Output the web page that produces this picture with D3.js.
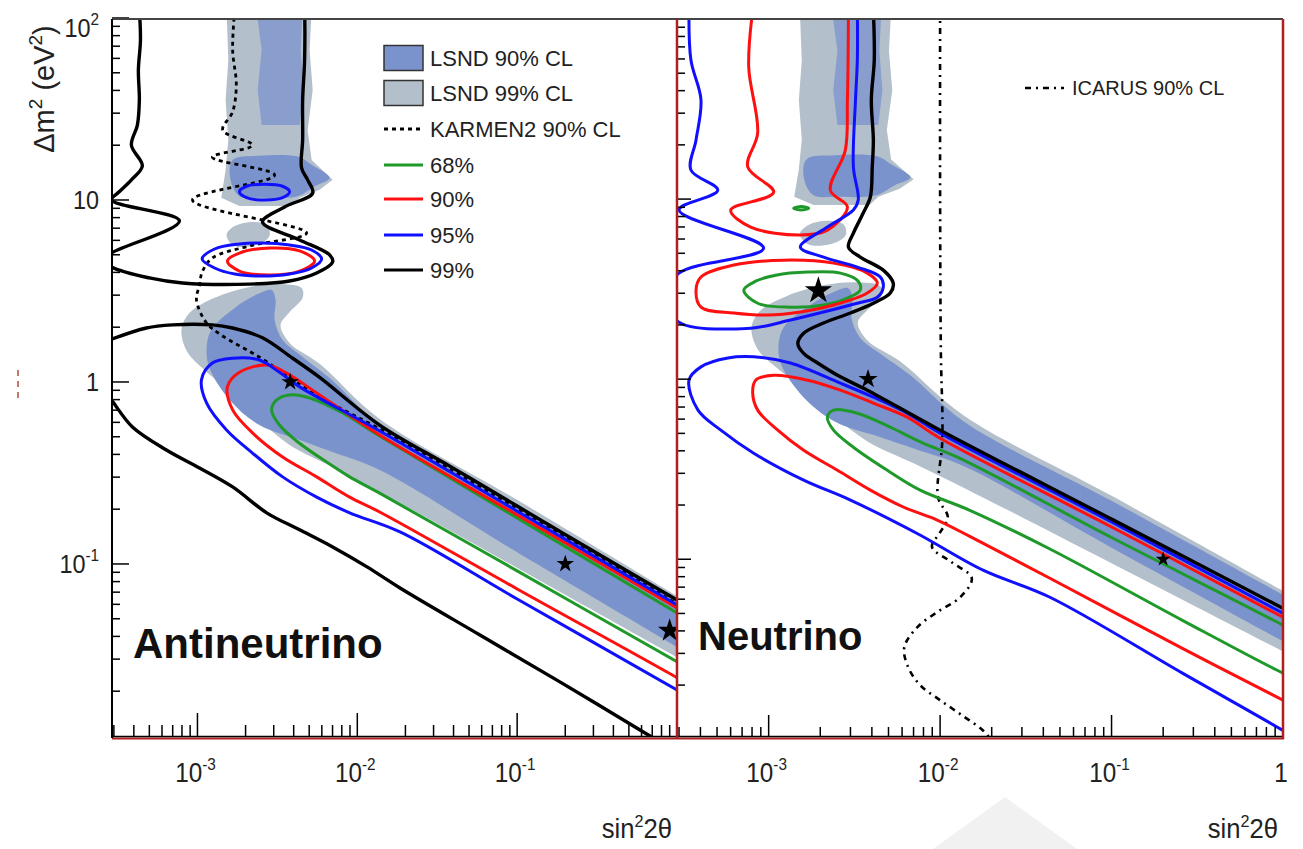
<!DOCTYPE html>
<html>
<head>
<meta charset="utf-8">
<script src="https://cdn.jsdelivr.net/npm/d3@7"></script>
<style>
html, body { margin: 0; padding: 0; background: #fff; }
svg { display: block; font-family: "Liberation Sans", Arial, sans-serif; }
</style>
</head>
<body>
<svg id="chart" width="1303" height="849"></svg>
<script>
// ---- axis domains and tick labels ----
const xDomain = [2.92e-4, 1];
const yDomainAnti = [0.0112, 100];
const yDomainNu = [0.0103, 100];
const xTickValues = [1e-3, 1e-2, 1e-1, 1];
const xTickText = [["10", "-3"], ["10", "-2"], ["10", "-1"], ["1", ""]];
const yTickValues = [100, 10, 1, 0.1];
const yTickText = [["10", "2"], ["10", ""], ["1", ""], ["10", "-1"]];
const legendLabels = ["LSND 90% CL", "LSND 99% CL", "KARMEN2 90% CL", "68%", "90%", "95%", "99%"];
const icarusLabel = "ICARUS 90% CL";

// ---- LSND allowed regions, [sin^2 2theta, dm^2] ----
const lsnd99Top = [[1.52e-3,111],[5.18e-3,111],[5.03e-3,66.7],[5.26e-3,40.2],[4.89e-3,24.2],[5.18e-3,16.6],[7.01e-3,12.9],[5.81e-3,11.4],[4.36e-3,10.3],[3.88e-3,9.27],[1.83e-3,9.27],[1.41e-3,10.3],[1.50e-3,14.6],[1.56e-3,21.4],[1.50e-3,35.4],[1.56e-3,58.8]];
const lsnd99Mid = [[1.52e-3,6.42],[1.71e-3,7.19],[2.28e-3,7.57],[2.75e-3,7.19],[2.82e-3,6.34],[2.44e-3,5.73],[1.71e-3,5.59]];
const lsnd99Low = [[2.12e-3,3.33],[3.17e-3,3.45],[4.48e-3,3.28],[4.55e-3,2.90],[3.77e-3,2.42],[3.31e-3,2.06],[3.77e-3,1.64],[5.81e-3,1.26],[1.38e-2,0.626],[0.1,0.225],[1.0,0.0667],[1.40,0.0559],[1.40,0.0262],[1.0,0.0308],[0.1,0.0951],[1.85e-2,0.216],[7.01e-3,0.341],[3.77e-3,0.451],[2.44e-3,0.618],[1.71e-3,0.849],[1.11e-3,1.16],[8.65e-4,1.46],[7.94e-4,1.93],[8.91e-4,2.39],[1.28e-3,2.90]];
const lsnd90Top = [[2.34e-3,111],[4.55e-3,111],[4.42e-3,66.7],[4.61e-3,40.2],[4.36e-3,25.8],[2.52e-3,25.8],[2.38e-3,40.2],[2.52e-3,66.7]];
const lsnd90Mid = [[1.66e-3,16.6],[2.44e-3,17.5],[4.36e-3,17.2],[5.18e-3,15.6],[6.71e-3,13.2],[5.41e-3,11.9],[4.23e-3,10.5],[2.44e-3,10.3],[1.83e-3,10.5],[1.61e-3,12.9]];
const lsnd90Low = [[2.91e-3,3.20],[3.08e-3,2.82],[3.04e-3,2.19],[3.41e-3,1.70],[4.36e-3,1.41],[6.71e-3,1.05],[1.38e-2,0.580],[0.1,0.211],[1.0,0.0634],[1.40,0.0531],[1.40,0.0293],[1.0,0.0350],[0.1,0.116],[1.38e-2,0.328],[7.01e-3,0.412],[4.36e-3,0.480],[2.44e-3,0.580],[1.59e-3,0.797],[1.19e-3,1.19],[1.14e-3,1.50],[1.22e-3,1.93],[1.71e-3,2.55],[2.38e-3,3.04]];

// ---- antineutrino fit contours ----
const anti99a = [[4.33e-4,111],[4.40e-4,75.7],[4.27e-4,51.8],[4.33e-4,35.4],[4.21e-4,25.8],[3.86e-4,20.0],[4.52e-4,15.4],[3.86e-4,12.9],[3.24e-4,11.1],[2.9e-4,10.0],[7.71e-4,7.67],[2.9e-4,5.11],[2.61e-4,4.68],[2.9e-4,4.28],[5.0e-4,3.73],[8.05e-4,3.50],[2.12e-3,3.45],[3.77e-3,3.59],[5.57e-3,3.97],[7.01e-3,4.56],[6.71e-3,4.99],[4.36e-3,6.03],[2.55e-3,7.57],[3.51e-3,9.16],[5.26e-3,10.9],[4.89e-3,12.9],[4.48e-3,15.0],[4.55e-3,21.4],[4.55e-3,35.4],[4.68e-3,58.8],[4.68e-3,111]];
const anti99b = [[2.61e-4,1.66],[4.79e-4,1.98],[6.97e-4,2.06],[1.24e-3,2.06],[1.66e-3,1.98],[2.55e-3,1.75],[3.94e-3,1.35],[5.81e-3,1.06],[1.38e-2,0.580],[3.79e-2,0.345],[0.1,0.208],[0.330,0.112],[1.0,0.0634],[1.21,0.0573]];
const anti99c = [[2.61e-4,0.881],[2.89e-4,0.797],[3.92e-4,0.566],[6.39e-4,0.423],[1.03e-3,0.337],[1.66e-3,0.265],[2.71e-3,0.191],[4.36e-3,0.154],[7.01e-3,0.124],[1.15e-2,0.0964],[1.85e-2,0.0738],[5.85e-2,0.0407],[0.185,0.0225],[0.650,0.0116],[0.785,0.0105]];
const anti95a = [[1.83e-3,11.1],[2.03e-3,11.9],[2.63e-3,12.2],[3.41e-3,11.9],[3.77e-3,11.1],[3.41e-3,10.3],[2.63e-3,10.0],[2.03e-3,10.3]];
const anti95b = [[1.07e-3,4.74],[1.28e-3,5.38],[1.83e-3,5.73],[2.52e-3,5.81],[3.77e-3,5.66],[5.18e-3,5.31],[5.98e-3,4.74],[5.18e-3,4.23],[3.77e-3,3.92],[2.52e-3,3.82],[1.71e-3,3.92],[1.28e-3,4.23]];
const anti95c = [[1.21,0.0184],[1.0,0.0203],[0.1,0.0642],[1.85e-2,0.150],[8.96e-3,0.191],[5.57e-3,0.233],[3.41e-3,0.301],[2.21e-3,0.407],[1.52e-3,0.545],[1.14e-3,0.767],[1.06e-3,1.03],[1.24e-3,1.27],[1.66e-3,1.35],[2.44e-3,1.32],[3.26e-3,1.13],[4.36e-3,0.94],[1.38e-2,0.538],[0.1,0.195],[1.0,0.0595],[1.21,0.0538]];
const anti90a = [[1.54e-3,4.62],[1.83e-3,5.11],[2.87e-3,5.45],[4.36e-3,5.25],[5.41e-3,4.62],[4.36e-3,4.07],[2.87e-3,3.87],[1.83e-3,4.07]];
const anti90b = [[1.21,0.0214],[1.0,0.0237],[0.1,0.0729],[1.38e-2,0.193],[8.96e-3,0.233],[5.57e-3,0.301],[3.41e-3,0.387],[2.21e-3,0.525],[1.66e-3,0.702],[1.54e-3,0.94],[1.83e-3,1.13],[2.71e-3,1.24],[3.61e-3,1.12],[5.57e-3,0.870],[1.38e-2,0.511],[0.1,0.186],[1.0,0.0573],[1.21,0.0518]];
const anti68 = [[1.21,0.0265],[1.0,0.0290],[0.1,0.0916],[1.38e-2,0.245],[8.96e-3,0.301],[6.43e-3,0.363],[4.17e-3,0.474],[3.26e-3,0.580],[2.91e-3,0.702],[3.13e-3,0.797],[3.77e-3,0.849],[5.03e-3,0.817],[8.09e-3,0.676],[1.38e-2,0.505],[0.1,0.179],[1.0,0.0538],[1.21,0.0486]];
const karmen2 = [[1.71e-3,111],[1.66e-3,66.7],[1.75e-3,42.9],[1.66e-3,30.5],[1.44e-3,24.2],[2.21e-3,20.0],[1.24e-3,17.2],[3.04e-3,13.7],[9.31e-4,10.0],[4.82e-3,6.59],[2.12e-3,5.59],[1.24e-3,4.80],[1.07e-3,4.02],[1.03e-3,3.41],[9.86e-4,2.82],[1.14e-3,2.11],[1.41e-3,1.81],[2.44e-3,1.37],[3.77e-3,1.06],[5.81e-3,0.828],[1.85e-2,0.480],[1.0,0.0603],[1.21,0.0545]];
const antiBest = [[3.8e-3,1.0],[0.2,0.1],[0.9,0.043]];

// ---- neutrino fit contours ----
const nu99 = [[4.08e-3,112],[4.13e-3,59.2],[3.97e-3,35.5],[4.08e-3,21.3],[4.02e-3,15.1],[3.92e-3,10.3],[3.56e-3,8.36],[3.12e-3,6.47],[2.92e-3,5.41],[3.42e-3,4.76],[4.66e-3,4.03],[5.33e-3,3.41],[5.12e-3,3.01],[4.08e-3,2.64],[3.00e-3,2.33],[2.09e-3,2.05],[1.60e-3,1.80],[1.48e-3,1.58],[1.60e-3,1.39],[1.93e-3,1.23],[2.62e-3,1.03],[3.76e-3,0.869],[1.0e-2,0.521],[0.1,0.167],[1.0,0.0534],[1.24,0.0476]];
const nu95a = [[3.43e-4,112],[3.52e-4,59.2],[4.03e-4,35.5],[3.77e-4,21.3],[3.52e-4,14.5],[5.05e-4,11.2],[3.00e-4,8.69],[9.35e-4,5.34],[3.00e-4,3.88],[2.52e-4,2.89],[3.00e-4,2.07],[7.86e-4,1.92],[1.34e-3,2.13],[2.09e-3,2.36],[3.29e-3,2.64],[4.30e-3,2.85],[4.66e-3,3.24],[4.48e-3,3.69],[3.29e-3,4.19],[2.09e-3,4.76],[1.53e-3,5.41],[2.20e-3,6.99],[3.12e-3,8.69],[3.33e-3,9.87],[3.12e-3,15.1],[3.21e-3,35.5],[3.29e-3,59.2],[3.29e-3,112]];
const nu95b = [[1.24,0.00987],[1.0,0.0112],[0.259,0.0233],[4.37e-2,0.0615],[1.78e-2,0.0869],[7.35e-3,0.139],[3.00e-3,0.213],[1.60e-3,0.275],[8.18e-4,0.388],[5.26e-4,0.521],[3.87e-4,0.673],[3.43e-4,0.987],[4.03e-4,1.17],[5.78e-4,1.31],[8.18e-4,1.33],[1.34e-3,1.23],[2.62e-3,0.950],[4.08e-3,0.794],[6.43e-3,0.647],[1.0e-2,0.501],[0.1,0.161],[1.0,0.0501],[1.24,0.0447]];
const nu90a = [[8.07e-4,112],[7.65e-4,54.1],[8.63e-4,23.3],[7.55e-4,15.1],[1.07e-3,10.9],[6.01e-4,8.69],[7.86e-4,6.99],[1.53e-3,6.31],[2.20e-3,6.72],[2.88e-3,9.03],[2.29e-3,11.2],[2.80e-3,18.7],[2.88e-3,35.5],[2.92e-3,112]];
const nu90b = [[3.77e-4,3.12],[4.03e-4,3.69],[6.26e-4,4.30],[1.22e-3,4.58],[2.39e-3,4.41],[3.76e-3,3.88],[4.30e-3,3.41],[3.76e-3,3.01],[2.39e-3,2.58],[1.53e-3,2.36],[9.87e-4,2.27],[6.26e-4,2.33],[4.03e-4,2.51]];
const nu90c = [[1.24,0.0149],[1.0,0.0165],[0.259,0.0320],[4.37e-2,0.0784],[1.49e-2,0.134],[9.61e-3,0.165],[6.10e-3,0.195],[3.92e-3,0.242],[2.52e-3,0.312],[1.60e-3,0.403],[1.13e-3,0.521],[8.63e-4,0.673],[8.07e-4,0.836],[8.40e-4,0.987],[1.07e-3,1.05],[1.69e-3,0.987],[2.62e-3,0.869],[4.08e-3,0.736],[6.43e-3,0.615],[1.0e-2,0.470],[0.1,0.151],[1.0,0.0476],[1.24,0.0424]];
const nu68a = [[1.40e-3,8.9],[1.55e-3,9.1],[1.71e-3,8.9],[1.55e-3,8.7]];
const nu68b = [[7.16e-4,3.12],[8.40e-4,3.50],[1.10e-3,3.78],[1.69e-3,3.93],[2.62e-3,3.88],[3.33e-3,3.50],[3.42e-3,3.12],[2.88e-3,2.82],[2.09e-3,2.58],[1.34e-3,2.51],[8.63e-4,2.64]];
const nu68c = [[1.24,0.0213],[1.0,0.0233],[0.259,0.0458],[4.37e-2,0.114],[1.49e-2,0.187],[7.65e-3,0.242],[4.92e-3,0.312],[3.12e-3,0.419],[2.39e-3,0.521],[2.20e-3,0.615],[2.39e-3,0.673],[3.29e-3,0.647],[5.12e-3,0.541],[7.96e-3,0.441],[1.26e-2,0.369],[0.1,0.132],[1.0,0.0430],[1.24,0.0383]];
const icarus = [[1.0e-2,112],[1.0e-2,9.87],[1.01e-2,1.45],[1.03e-2,0.458],[9.73e-3,0.221],[1.11e-2,0.171],[1.0e-2,0.141],[8.97e-3,0.117],[1.17e-2,0.0962],[1.53e-2,0.0784],[1.31e-2,0.0615],[9.61e-3,0.0508],[7.35e-3,0.0419],[6.18e-3,0.0324],[6.52e-3,0.0251],[7.65e-3,0.0200],[1.0e-2,0.0165],[1.34e-2,0.0136],[1.78e-2,0.0112],[2.03e-2,0.0096]];
const nuBest = [[1.95e-3,3.1],[3.8e-3,1.0],[0.2,0.1]];

// ---- styles ----
const C = {
  lsnd90: "#7b93cd", lsnd99: "#b3bfcb",
  c68: "#1f9a2a", c90: "#ff1010", c95: "#1010ff", c99: "#000000",
  frameRed: "#b01e1e", text: "#222"
};

const svg = d3.select("#chart");
const defs = svg.append("defs");

// faint mark in the lower margin
svg.append("path").attr("d", "M1005,797 L1077,849 L933,849 Z").attr("fill", "#f1f1f1");

const panels = [
  { id: "anti", x0: 112, x1: 677, yTop: 18, yBot: 737, yDomain: yDomainAnti,
    xMaj: 24, xMin: 12, yMaj: 17, yMin: 8, xLabels: [0, 1, 2], title: "Antineutrino",
    titleX: 133, titleY: 658, titleSize: 42,
    fills: [[lsnd99Top, C.lsnd99, "lin", 1], [lsnd99Mid, C.lsnd99, "cr", 1], [lsnd99Low, C.lsnd99, "cr", 1],
            [lsnd90Top, C.lsnd90, "lin", 0.75], [lsnd90Mid, C.lsnd90, "cr", 1], [lsnd90Low, C.lsnd90, "cr", 1]],
    lines: [[anti68, C.c68, false], [anti90a, C.c90, true], [anti90b, C.c90, false],
            [anti95a, C.c95, true], [anti95b, C.c95, true], [anti95c, C.c95, false],
            [anti99a, C.c99, false], [anti99b, C.c99, false], [anti99c, C.c99, false]],
    dashed: [[karmen2, "4,4", 2.8]],
    stars: antiBest, starSizes: [95, 95, 170] },
  { id: "nu", x0: 677, x1: 1283, yTop: 19, yBot: 737, yDomain: yDomainNu,
    xMaj: 22, xMin: 10, yMaj: 14, yMin: 8, xLabels: [0, 1, 2, 3], title: "Neutrino",
    titleX: 698, titleY: 650, titleSize: 40,
    fills: [[lsnd99Top, C.lsnd99, "lin", 1], [lsnd99Mid, C.lsnd99, "cr", 1], [lsnd99Low, C.lsnd99, "cr", 1],
            [lsnd90Top, C.lsnd90, "lin", 0.75], [lsnd90Mid, C.lsnd90, "cr", 1], [lsnd90Low, C.lsnd90, "cr", 1]],
    lines: [[nu68a, C.c68, true], [nu68b, C.c68, true], [nu68c, C.c68, false],
            [nu90a, C.c90, false], [nu90b, C.c90, true], [nu90c, C.c90, false],
            [nu95a, C.c95, false], [nu95b, C.c95, false],
            [nu99, C.c99, false]],
    dashed: [[icarus, "6,5,2,5", 2.6]],
    stars: nuBest, starSizes: [230, 115, 70] }
];

function logTicks(domain) {
  const out = [];
  for (let e = -5; e <= 3; e++) {
    for (let k = 1; k <= 9; k++) {
      const v = k * Math.pow(10, e);
      if (v >= domain[0] * 0.999 && v <= domain[1] * 1.001) out.push({ v, major: k === 1 });
    }
  }
  return out;
}

// text with an optional superscript, slightly condensed like the axis font
function powerLabel(x, y, anchor, base, exp, size) {
  const t = svg.append("text")
    .attr("transform", `translate(${x},${y}) scale(0.9,1)`)
    .attr("text-anchor", anchor).attr("font-size", size).attr("fill", C.text);
  t.append("tspan").text(base);
  if (exp) t.append("tspan").attr("dy", -Math.round(size * 0.45)).attr("font-size", Math.round(size * 0.64)).text(exp);
  return t;
}

panels.forEach(p => {
  const xs = d3.scaleLog().domain(xDomain).range([p.x0, p.x1]);
  const ys = d3.scaleLog().domain(p.yDomain).range([p.yBot, p.yTop]);

  defs.append("clipPath").attr("id", "clip-" + p.id)
    .append("rect").attr("x", p.x0).attr("y", 19).attr("width", p.x1 - p.x0).attr("height", 737 - 19);

  const g = svg.append("g").attr("clip-path", "url(#clip-" + p.id + ")");

  const open = d3.line().x(d => xs(d[0])).y(d => ys(d[1])).curve(d3.curveCatmullRom.alpha(0.5));
  const closed = d3.line().x(d => xs(d[0])).y(d => ys(d[1])).curve(d3.curveCatmullRomClosed.alpha(0.5));
  const poly = d3.line().x(d => xs(d[0])).y(d => ys(d[1])).curve(d3.curveLinearClosed);

  // LSND allowed regions
  p.fills.forEach(([pts, col, kind, op]) => {
    g.append("path").attr("d", kind === "lin" ? poly(pts) : closed(pts))
      .attr("fill", col).attr("fill-opacity", op).attr("stroke", "none");
  });

  // exclusion limit of the other experiment
  p.dashed.forEach(([pts, dash, w]) => {
    g.append("path").attr("d", open(pts)).attr("fill", "none")
      .attr("stroke", "#000").attr("stroke-width", w).attr("stroke-dasharray", dash);
  });

  // confidence-level contours
  p.lines.forEach(([pts, col, isClosed]) => {
    g.append("path").attr("d", isClosed ? closed(pts) : open(pts))
      .attr("fill", "none").attr("stroke", col)
      .attr("stroke-width", col === C.c99 ? 3.4 : 3).attr("stroke-linejoin", "round");
  });

  // best-fit points
  g.selectAll("path.star").data(p.stars).join("path").attr("class", "star")
    .attr("transform", d => `translate(${xs(d[0])},${ys(d[1])})`)
    .attr("d", (d, i) => d3.symbol(d3.symbolStar, p.starSizes[i])())
    .attr("fill", "#000");

  // ticks
  const tg = svg.append("g").attr("stroke", "#000").attr("stroke-width", 1.5);
  logTicks(xDomain).forEach(t => {
    const x = xs(t.v);
    if (x > p.x1 - 0.5) return;
    tg.append("line").attr("x1", x).attr("x2", x)
      .attr("y1", p.yBot).attr("y2", p.yBot - (t.major ? p.xMaj : p.xMin));
  });
  logTicks(p.yDomain).forEach(t => {
    const y = ys(t.v);
    tg.append("line").attr("x1", p.x0).attr("x2", p.x0 + (t.major ? p.yMaj : p.yMin))
      .attr("y1", y).attr("y2", y);
  });

  // x tick labels
  p.xLabels.forEach(i => {
    powerLabel(xs(xTickValues[i]) - 2, 782, "middle", xTickText[i][0], xTickText[i][1], 27);
  });

  // x axis title
  const st = svg.append("text")
    .attr("transform", `translate(${p.x1 - 5},838) scale(0.95,1)`)
    .attr("text-anchor", "end").attr("font-size", 27).attr("fill", C.text);
  st.append("tspan").text("sin");
  st.append("tspan").attr("dy", -11).attr("font-size", 17).text("2");
  st.append("tspan").attr("dy", 11).text("2θ");

  // panel name
  svg.append("text").attr("x", p.titleX).attr("y", p.titleY)
    .attr("font-size", p.titleSize).attr("font-weight", "bold").attr("fill", "#111").text(p.title);

  p.xs = xs; p.ys = ys;
});

// y tick labels (left panel only)
const L = panels[0];
yTickValues.forEach((v, i) => {
  const y = Math.max(L.ys(v), 28) + 9;
  powerLabel(99, y, "end", yTickText[i][0], yTickText[i][1], 26);
});

// y axis title
svg.append("text").attr("transform", "translate(54,89) rotate(-90)")
  .attr("text-anchor", "middle").attr("font-size", 29).attr("fill", C.text)
  .call(t => {
    t.append("tspan").text("Δm");
    t.append("tspan").attr("dy", -12).attr("font-size", 19).text("2");
    t.append("tspan").attr("dy", 12).text(" (eV");
    t.append("tspan").attr("dy", -12).attr("font-size", 19).text("2");
    t.append("tspan").attr("dy", 12).text(")");
  });

// frames
svg.append("line").attr("x1", 112).attr("x2", 1283).attr("y1", 19).attr("y2", 19)
  .attr("stroke", "#444").attr("stroke-width", 2);
svg.append("line").attr("x1", 112).attr("x2", 1284).attr("y1", 738.5).attr("y2", 738.5)
  .attr("stroke", C.frameRed).attr("stroke-width", 2);
svg.append("line").attr("x1", 112).attr("x2", 1283).attr("y1", 736.5).attr("y2", 736.5)
  .attr("stroke", "#000").attr("stroke-width", 1.5);
svg.append("line").attr("x1", 112).attr("x2", 112).attr("y1", 19).attr("y2", 738)
  .attr("stroke", "#000").attr("stroke-width", 2);
[677, 1283].forEach(x => svg.append("line").attr("x1", x).attr("x2", x).attr("y1", 19).attr("y2", 739)
  .attr("stroke", C.frameRed).attr("stroke-width", 2.5));

// stray marks at far left
svg.append("line").attr("x1", 18).attr("x2", 18).attr("y1", 370).attr("y2", 398)
  .attr("stroke", "#c87868").attr("stroke-width", 2).attr("stroke-dasharray", "6,5");

// legend (antineutrino panel)
const lg = svg.append("g");
const legendY = [58, 93, 129, 165, 199, 235, 270];
const legendStyle = [
  { box: C.lsnd90 }, { box: C.lsnd99 },
  { line: "#000", dash: "4,4" }, { line: C.c68 }, { line: C.c90 }, { line: C.c95 }, { line: C.c99 }
];
legendLabels.forEach((lab, i) => {
  const y = legendY[i], s = legendStyle[i];
  if (s.box) {
    lg.append("rect").attr("x", 384).attr("y", y - 12.5).attr("width", 39).attr("height", 25)
      .attr("fill", s.box).attr("stroke", "#333").attr("stroke-width", 1.5);
  } else {
    lg.append("line").attr("x1", 384).attr("x2", 423).attr("y1", y).attr("y2", y)
      .attr("stroke", s.line).attr("stroke-width", 3).attr("stroke-dasharray", s.dash || null);
  }
  lg.append("text").attr("x", 430).attr("y", y + 8).attr("font-size", 22).attr("fill", C.text).text(lab);
});

// legend (neutrino panel)
svg.append("line").attr("x1", 1025).attr("x2", 1064).attr("y1", 88).attr("y2", 88)
  .attr("stroke", "#000").attr("stroke-width", 2.6).attr("stroke-dasharray", "6,5,2,5");
svg.append("text").attr("x", 1072).attr("y", 95).attr("font-size", 20).attr("fill", C.text).text(icarusLabel);
</script>
</body>
</html>
